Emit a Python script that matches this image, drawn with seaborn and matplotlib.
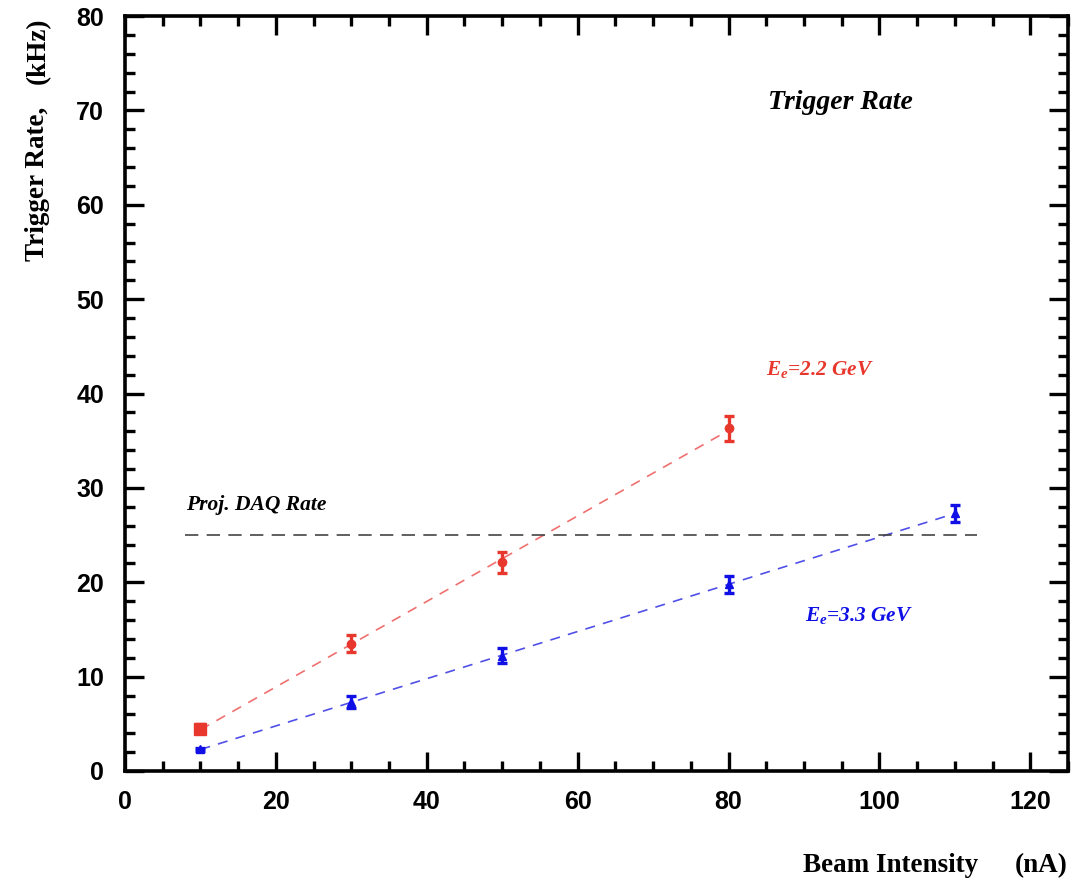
import numpy as np
import pandas as pd
import matplotlib
matplotlib.use("Agg")
import matplotlib.pyplot as plt
from matplotlib.ticker import MultipleLocator
import seaborn as sns

# Measured trigger rates vs beam current
beam_22 = [10, 30, 50, 80]
rate_22 = [4.5, 13.5, 22.1, 36.3]
err_22 = [0.5, 0.9, 1.1, 1.3]

beam_33 = [10, 30, 50, 80, 110]
rate_33 = [2.3, 7.3, 12.2, 19.8, 27.3]
err_33 = [0.15, 0.6, 0.8, 0.9, 0.9]

daq_rate = 25.0
daq_span = [8, 113]

x_ticks = [0, 20, 40, 60, 80, 100, 120]
y_ticks = [0, 10, 20, 30, 40, 50, 60, 70, 80]

RED = "#e8382e"
BLUE = "#1010e6"

sns.set_theme(style="ticks")
plt.rcParams["font.family"] = ["Liberation Sans", "DejaVu Sans"]
plt.rcParams["text.color"] = "black"
plt.rcParams["mathtext.fontset"] = "custom"
plt.rcParams["mathtext.it"] = "Liberation Serif:style=italic:weight=bold"
plt.rcParams["mathtext.rm"] = "Liberation Serif:style=italic:weight=bold"

fig = plt.figure(figsize=(10.76, 8.82), dpi=100)
ax = fig.add_axes([125 / 1076, 1 - 771 / 882, (1068 - 125) / 1076, (771 - 16) / 882])

# linear fits through each data set
def fit_frame(x, y):
    k, b = np.polyfit(x, y, 1)
    xs = np.array([min(x), max(x)], dtype=float)
    return pd.DataFrame({"x": xs, "y": k * xs + b})

f22 = fit_frame(beam_22, rate_22)
f33 = fit_frame(beam_33, rate_33)
sns.lineplot(data=f22, x="x", y="y", ax=ax, color="#f07070", lw=1.2,
             dashes=(6, 5), zorder=2)
sns.lineplot(data=f33, x="x", y="y", ax=ax, color="#5050e8", lw=1.2,
             dashes=(6, 5), zorder=2)

# projected DAQ limit
daq = pd.DataFrame({"x": daq_span, "y": [daq_rate, daq_rate]})
sns.lineplot(data=daq, x="x", y="y", ax=ax, color="#444444", lw=1.2,
             dashes=(8, 5), zorder=2)

# data points with error bars
for i, (x, y, e) in enumerate(zip(beam_22, rate_22, err_22)):
    ax.errorbar(x, y, yerr=e, fmt="s" if i == 0 else "o", color=RED,
                ms=8 if i == 0 else 6, capsize=3.5, capthick=2.4, elinewidth=2.4,
                zorder=3)
for x, y, e in zip(beam_33, rate_33, err_33):
    ax.errorbar(x, y, yerr=e, fmt="^", color=BLUE, ms=6, capsize=3.5,
                capthick=2.4, elinewidth=2.4, zorder=3)

ax.set_xlim(0, 125)
ax.set_ylim(0, 80)
ax.set_xticks(x_ticks)
ax.set_yticks(y_ticks)
ax.xaxis.set_minor_locator(MultipleLocator(5))
ax.yaxis.set_minor_locator(MultipleLocator(2))
ax.tick_params(which="both", direction="in", top=True, right=True, width=2.4,
               colors="black")
ax.tick_params(which="major", length=14, labelsize=18)
ax.tick_params(which="minor", length=7)
ax.tick_params(axis="x", which="major", pad=14)
ax.tick_params(axis="y", which="major", pad=15)
for lab in ax.get_xticklabels() + ax.get_yticklabels():
    lab.set_fontweight("bold")
    lab.set_color("black")
for sp in ax.spines.values():
    sp.set_linewidth(2.6)
    sp.set_color("black")
ax.set_xlabel("")
ax.set_ylabel("")

serif = ["Liberation Serif", "DejaVu Serif"]
ax.text(85.2, 70.8, "Trigger Rate", family=serif, style="italic",
        weight="bold", fontsize=20, ha="left", va="center")
ax.text(8.1, 28.2, "Proj. DAQ Rate", family=serif, style="italic",
        weight="bold", fontsize=15.5, ha="left", va="center")
ax.text(85.0, 42.5, r"$E_e$=2.2 GeV", family=serif, style="italic",
        weight="bold", fontsize=15.3, color=RED, ha="left", va="center")
ax.text(90.1, 16.5, r"$E_e$=3.3 GeV", family=serif, style="italic",
        weight="bold", fontsize=15.3, color=BLUE, ha="left", va="center")

# axis titles, drawn in two pieces each
fig.text(38 / 1076, 1 - 18 / 882, "(kHz)", family=serif,
         weight="bold", fontsize=19.5, rotation=90, ha="center", va="top")
fig.text(38 / 1076, 1 - 107 / 882, "Trigger Rate,", family=serif,
         weight="bold", fontsize=19.5, rotation=90, ha="center", va="top")
fig.text(1068 / 1076, 1 - 866 / 882, "(nA)", family=serif,
         weight="bold", fontsize=19.5, ha="right", va="center")
fig.text(978 / 1076, 1 - 866 / 882, "Beam Intensity", family=serif,
         weight="bold", fontsize=19.5, ha="right", va="center")

fig.savefig("out.png", dpi=100, facecolor="white")
